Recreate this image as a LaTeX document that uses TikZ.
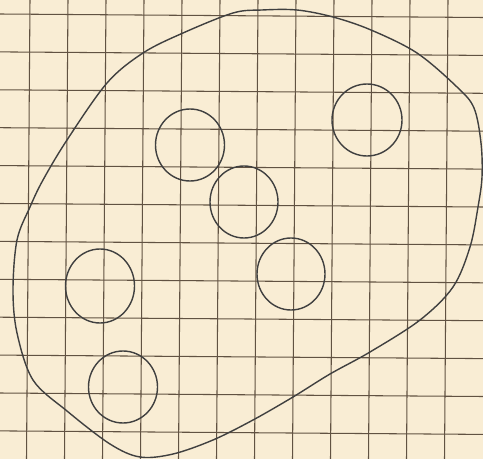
\documentclass[tikz,border=0pt]{standalone}
\begin{document}
\begin{tikzpicture}[x=0.02cm,y=-0.02cm,
  gridline/.style={draw=black!70!brown!80, line width=0.6pt},
  ink/.style={draw=black!75, line width=0.8pt}]
\definecolor{paper}{RGB}{249,237,212}
\fill[paper] (0,0) rectangle (483,459);
\useasboundingbox (0,0) rectangle (483,459);
\foreach \i in {0,...,11}{
  \draw[gridline] ({30+38*\i},0) -- ({26.5+38*\i},459);
  \draw[gridline] (0,{14+37.9*\i}) -- (483,{17.5+37.9*\i});
}
\draw[ink] plot[smooth cycle, tension=0.55] coordinates {
(297,10) (333,17) (371,30) (417,53) (457,87) (474,108) (481,143) (482,177)
(478,207) (470,247) (453,287) (420,320) (370,352) (330,374) (293,397)
(253,420) (213,440) (173,454) (140,457) (110,444) (67,411) (33,380) (17,333)
(13,290) (17,240) (30,207) (43,180) (67,140) (107,83) (143,53) (183,33)
(233,13) (262,10)};
\draw[ink] (190,145) ellipse (34.5 and 36);
\draw[ink] (367,120) ellipse (35 and 36);
\draw[ink] (244,202) ellipse (34 and 36);
\draw[ink] (291,274) ellipse (34 and 36);
\draw[ink] (100,286) ellipse (34.5 and 37);
\draw[ink] (123,387) ellipse (34.5 and 36);
\end{tikzpicture}
\end{document}
